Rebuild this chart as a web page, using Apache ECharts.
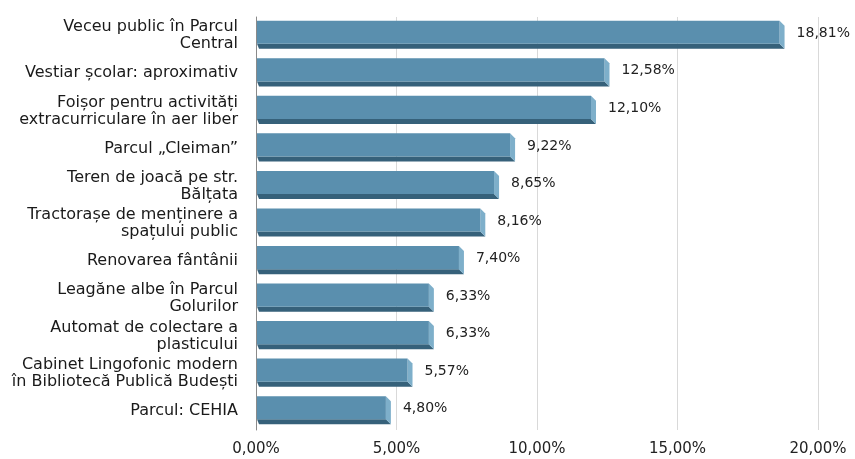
<!DOCTYPE html>
<html>
<head>
<meta charset="utf-8">
<script src="https://cdn.jsdelivr.net/npm/echarts@6/dist/echarts.min.js"></script>
<style>html,body{margin:0;padding:0;background:#fff;}#c{width:855px;height:459px;}</style>
</head>
<body>
<div id="c"></div>
<script>
const categories = [
  "Veceu public în Parcul\nCentral",
  "Vestiar școlar: aproximativ",
  "Foișor pentru activități\nextracurriculare în aer liber",
  "Parcul „Cleiman”",
  "Teren de joacă pe str.\nBălțata",
  "Tractorașe de menținere a\nspațului public",
  "Renovarea fântânii",
  "Leagăne albe în Parcul\nGolurilor",
  "Automat de colectare a\nplasticului",
  "Cabinet Lingofonic modern\nîn Bibliotecă Publică Budești",
  "Parcul: CEHIA"
];
const values = [18.81, 12.58, 12.10, 9.22, 8.65, 8.16, 7.40, 6.33, 6.33, 5.57, 4.80];
const xMin = 0, xMax = 20, xStep = 5;

const fmt = v => v.toFixed(2).replace('.', ',') + '%';

function renderItem(params, api) {
  const v = api.value(0), ci = api.value(1);
  const p0 = api.coord([0, ci]);
  const p1 = api.coord([v, ci]);
  const band = api.size([0, 1])[1];
  const bh = band * 0.75, d = 5;
  const top = p0[1] - bh / 2 - 1, yb = top + bh;
  const x0 = p0[0] + 1, xv = p1[0];
  return {
    type: 'group',
    children: [
      {type: 'polygon', shape: {points: [[x0, yb - d], [xv - d, yb - d], [xv, yb], [x0 + 2, yb]]}, style: {fill: '#36617a'}},
      {type: 'polygon', shape: {points: [[xv - d, top], [xv, top + d], [xv, yb], [xv - d, yb - d]]}, style: {fill: '#7eafca'}},
      {type: 'rect', shape: {x: x0, y: top, width: xv - d - x0, height: bh - d}, style: {fill: '#5a8fae'}},
      {type: 'text', x: xv + 12, y: (top + yb - d) / 2 + 1,
        style: {text: fmt(v), fontSize: 14, fontFamily: 'DejaVu Sans', fill: '#222', verticalAlign: 'middle', align: 'left'}}
    ]
  };
}

const chart = echarts.init(document.getElementById('c'), null, {renderer: 'canvas'});
chart.setOption({
  animation: false,
  grid: {left: 256, right: 37, top: 17, bottom: 29, containLabel: false},
  xAxis: {
    type: 'value', min: xMin, max: xMax, interval: xStep,
    axisLine: {show: false}, axisTick: {show: false},
    splitLine: {show: true, lineStyle: {color: '#d9d9d9', width: 1}},
    axisLabel: {formatter: v => fmt(v), fontSize: 15, fontFamily: 'DejaVu Sans', color: '#222', margin: 12}
  },
  yAxis: {
    type: 'category', data: categories, inverse: true,
    axisLine: {show: true, lineStyle: {color: '#8a8a8a', width: 1}},
    axisTick: {show: false},
    axisLabel: {fontSize: 16, fontFamily: 'DejaVu Sans', color: '#1a1a1a', lineHeight: 17, margin: 18, align: 'right'}
  },
  series: [{
    type: 'custom',
    renderItem: renderItem,
    encode: {x: 0, y: 1},
    data: values.map((v, i) => [v, i])
  }]
});
</script>
</body>
</html>
